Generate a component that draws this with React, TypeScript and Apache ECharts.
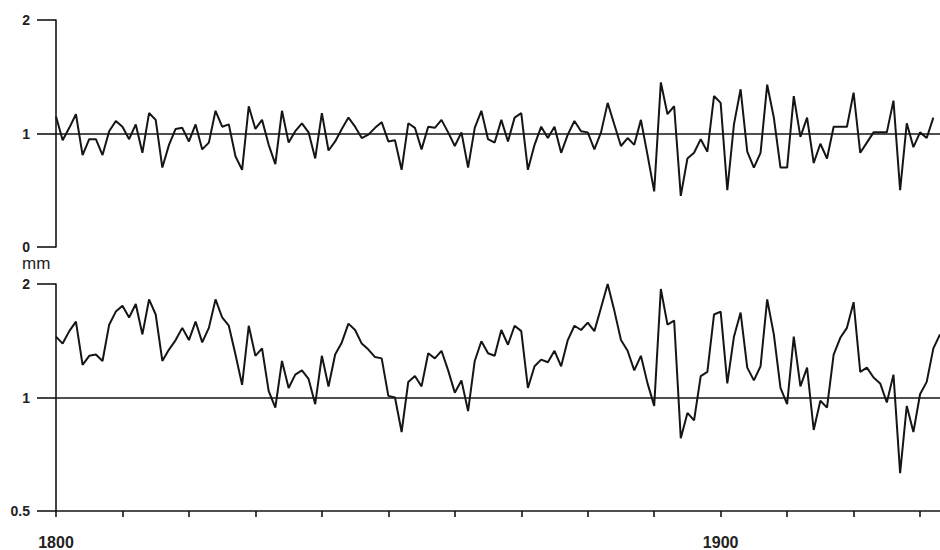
import React, { useEffect, useRef } from "react";
import * as echarts from "echarts";

const START_YEAR = 1800;
const END_YEAR = 1933;

// Upper panel (linear, mm), 1800–1932
const upperValues = [
  1.15, 0.94, 1.05, 1.17, 0.81, 0.95, 0.95, 0.81, 1.02, 1.11,
  1.06, 0.95, 1.08, 0.83, 1.18, 1.12, 0.70, 0.90, 1.04, 1.05,
  0.93, 1.08, 0.86, 0.92, 1.20, 1.06, 1.08, 0.80, 0.68, 1.24,
  1.04, 1.12, 0.90, 0.73, 1.20, 0.92, 1.02, 1.09, 1.01, 0.78,
  1.18, 0.85, 0.93, 1.04, 1.14, 1.06, 0.96, 0.99, 1.05, 1.10,
  0.93, 0.94, 0.68, 1.09, 1.05, 0.86, 1.06, 1.05, 1.12, 1.01,
  0.89, 1.01, 0.70, 1.05, 1.20, 0.95, 0.92, 1.12, 0.93, 1.14,
  1.18, 0.68, 0.90, 1.06, 0.96, 1.06, 0.83, 0.99, 1.11, 1.02,
  1.01, 0.86, 1.01, 1.27, 1.08, 0.89, 0.96, 0.90, 1.12, 0.81,
  0.49, 1.45, 1.17, 1.24, 0.45, 0.78, 0.83, 0.95, 0.84, 1.33,
  1.27, 0.50, 1.08, 1.39, 0.84, 0.70, 0.83, 1.43, 1.14, 0.70,
  0.70, 1.33, 0.97, 1.14, 0.74, 0.91, 0.78, 1.06, 1.06, 1.06,
  1.36, 0.83, 0.92, 1.01, 1.01, 1.01, 1.29, 0.50, 1.09, 0.88,
  1.01, 0.96, 1.14,
];

// Lower panel (log scale, mm), 1800–1933
const lowerValues = [
  1.45, 1.39, 1.50, 1.59, 1.22, 1.29, 1.30, 1.25, 1.56, 1.69,
  1.75, 1.63, 1.77, 1.47, 1.82, 1.66, 1.25, 1.34, 1.42, 1.53,
  1.42, 1.59, 1.40, 1.53, 1.82, 1.63, 1.55, 1.30, 1.08, 1.55,
  1.29, 1.35, 1.04, 0.94, 1.25, 1.06, 1.15, 1.18, 1.12, 0.96,
  1.29, 1.07, 1.30, 1.40, 1.57, 1.51, 1.39, 1.34, 1.28, 1.27,
  1.01, 1.00, 0.81, 1.10, 1.14, 1.07, 1.31, 1.27, 1.33, 1.18,
  1.03, 1.11, 0.92, 1.25, 1.41, 1.31, 1.29, 1.51, 1.38, 1.55,
  1.50, 1.06, 1.21, 1.26, 1.24, 1.33, 1.21, 1.42, 1.55, 1.51,
  1.58, 1.50, 1.73, 2.00, 1.70, 1.42, 1.33, 1.18, 1.29, 1.09,
  0.95, 1.94, 1.56, 1.60, 0.78, 0.91, 0.87, 1.14, 1.17, 1.66,
  1.69, 1.09, 1.45, 1.68, 1.20, 1.11, 1.21, 1.82, 1.47, 1.06,
  0.96, 1.45, 1.07, 1.20, 0.82, 0.98, 0.94, 1.30, 1.44, 1.53,
  1.79, 1.17, 1.20, 1.13, 1.09, 0.97, 1.15, 0.63, 0.95, 0.81,
  1.02, 1.10, 1.35, 1.47,
];

const xTickValues = [1800, 1810, 1820, 1830, 1840, 1850, 1860, 1870, 1880, 1890, 1900, 1910, 1920, 1930];
const xLabelValues = [1800, 1900];
const upperYTicks = [0, 1, 2];
const lowerYTicks = [0.5, 1, 2];
const referenceLevel = 1;
const unitLabel = "mm";

const FONT = "'Liberation Sans', Arial, Helvetica, sans-serif";
const INK = "#151515";

export default function App() {
  const ref = useRef<HTMLDivElement>(null);

  useEffect(() => {
    if (!ref.current) return;
    const chart = echarts.init(ref.current, undefined, { renderer: "svg" });

    const upperData = upperValues.map((v, i) => [START_YEAR + i, v]);
    const lowerData = lowerValues.map((v, i) => [START_YEAR + i, v]);

    const axisLineStyle = { color: INK, width: 1.6 };
    const yLabel = {
      margin: 26,
      fontSize: 14,
      fontWeight: "bold" as const,
      color: "#222",
      fontFamily: FONT,
    };

    const markLine = {
      silent: true,
      symbol: "none",
      label: { show: false },
      lineStyle: { color: INK, width: 1.5, type: "solid" as const },
      data: [{ yAxis: referenceLevel }],
    };

    chart.setOption({
      animation: false,
      backgroundColor: "#ffffff",
      textStyle: { fontFamily: FONT },
      grid: [
        { left: 56, top: 20, width: 884, height: 227 },
        { left: 56, top: 284, width: 884, height: 227 },
      ],
      xAxis: [
        {
          gridIndex: 0,
          type: "value",
          min: START_YEAR,
          max: END_YEAR,
          show: false,
        },
        {
          gridIndex: 1,
          type: "value",
          min: START_YEAR,
          max: END_YEAR,
          interval: 10,
          axisLine: { show: true, onZero: false, lineStyle: axisLineStyle },
          axisTick: {
            show: true,
            length: 6,
            customValues: xTickValues,
            lineStyle: axisLineStyle,
          },
          axisLabel: {
            customValues: xLabelValues,
            margin: 23,
            fontSize: 16,
            fontWeight: "bold",
            color: "#222",
            fontFamily: FONT,
            formatter: (v: number) => String(v),
          },
          splitLine: { show: false },
        },
      ],
      yAxis: [
        {
          gridIndex: 0,
          type: "value",
          min: 0,
          max: 2,
          interval: 1,
          axisLine: { show: true, onZero: false, lineStyle: axisLineStyle },
          axisTick: {
            show: true,
            length: 19,
            customValues: upperYTicks,
            lineStyle: axisLineStyle,
          },
          axisLabel: { ...yLabel, customValues: upperYTicks },
          splitLine: { show: false },
        },
        {
          gridIndex: 1,
          type: "log",
          logBase: 2,
          min: 0.5,
          max: 2,
          axisLine: { show: true, onZero: false, lineStyle: axisLineStyle },
          axisTick: {
            show: true,
            length: 19,
            customValues: lowerYTicks,
            lineStyle: axisLineStyle,
          },
          axisLabel: {
            ...yLabel,
            customValues: lowerYTicks,
            formatter: (v: number) => String(v),
          },
          splitLine: { show: false },
        },
      ],
      graphic: [
        {
          type: "text",
          left: 22,
          top: 255,
          style: {
            text: unitLabel,
            fontSize: 17,
            fill: "#222",
            fontFamily: FONT,
          },
        },
      ],
      series: [
        {
          type: "line",
          xAxisIndex: 0,
          yAxisIndex: 0,
          data: upperData,
          symbol: "none",
          lineStyle: { color: INK, width: 2 },
          markLine,
        },
        {
          type: "line",
          xAxisIndex: 1,
          yAxisIndex: 1,
          data: lowerData,
          symbol: "none",
          lineStyle: { color: INK, width: 2 },
          markLine,
        },
      ],
    });

    return () => chart.dispose();
  }, []);

  return (
    <div
      ref={ref}
      style={{ position: "fixed", left: 0, top: 0, width: 940, height: 550 }}
    />
  );
}
